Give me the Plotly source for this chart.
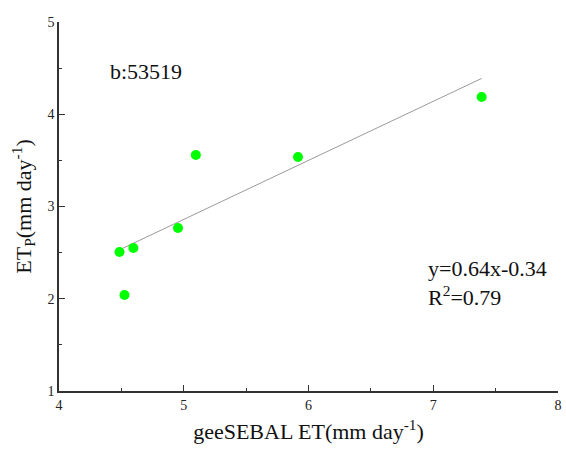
import plotly.graph_objects as go

x_vals = [4.485, 4.596, 4.525, 4.954, 5.097, 5.916, 7.388]
y_vals = [2.507, 2.55, 2.04, 2.767, 3.558, 3.537, 4.187]
slope = 0.64
intercept = -0.34
station_label = "b:53519"
eq_label = "y=0.64x-0.34"
r2_label = "R<sup>2</sup>=0.79"

xmin, xmax = min(x_vals), max(x_vals)
line_x = [xmin, xmax]
line_y = [slope * v + intercept for v in line_x]

FONT = "Liberation Serif, Times New Roman, serif"

fig = go.Figure()
fig.add_trace(go.Scatter(x=line_x, y=line_y, mode="lines",
                         line=dict(color="#9a9a9a", width=1), showlegend=False))
fig.add_trace(go.Scatter(x=x_vals, y=y_vals, mode="markers",
                         marker=dict(color="#00ff00", size=10, line=dict(width=0)),
                         showlegend=False))

axis_common = dict(showline=True, linecolor="#333333", linewidth=1.5,
                   ticks="inside", ticklen=6, tickwidth=1.2, tickcolor="#333333",
                   showgrid=False, zeroline=False, mirror=False,
                   tickfont=dict(family=FONT, size=14, color="#222222"),
                   minor=dict(ticks="inside", ticklen=3, tickwidth=1, tickcolor="#333333", dtick=0.5, showgrid=False))

fig.update_xaxes(range=[4, 8], dtick=1, tick0=4,
                 title=dict(text="geeSEBAL ET(mm day<sup>-1</sup>)", font=dict(family=FONT, size=22, color="#111111"), standoff=12),
                 **axis_common)
fig.update_yaxes(range=[1, 5], dtick=1, tick0=1,
                 title=dict(text="ET<sub>P</sub>(mm day<sup>-1</sup>)", font=dict(family=FONT, size=22, color="#111111"), standoff=10),
                 **axis_common)

fig.add_annotation(x=4.39, y=4.46, text=station_label, showarrow=False, xanchor="left", yanchor="middle",
                   font=dict(family=FONT, size=22, color="#111111"))
fig.add_annotation(x=6.94, y=2.33, text=eq_label, showarrow=False, xanchor="left", yanchor="middle",
                   font=dict(family=FONT, size=22, color="#111111"))
fig.add_annotation(x=6.94, y=2.03, text=r2_label, showarrow=False, xanchor="left", yanchor="middle",
                   font=dict(family=FONT, size=22, color="#111111"))

fig.update_layout(width=566, height=453, margin=dict(l=59, r=4, t=22, b=62),
                  plot_bgcolor="white", paper_bgcolor="white", showlegend=False)

fig.write_html("out.html")
